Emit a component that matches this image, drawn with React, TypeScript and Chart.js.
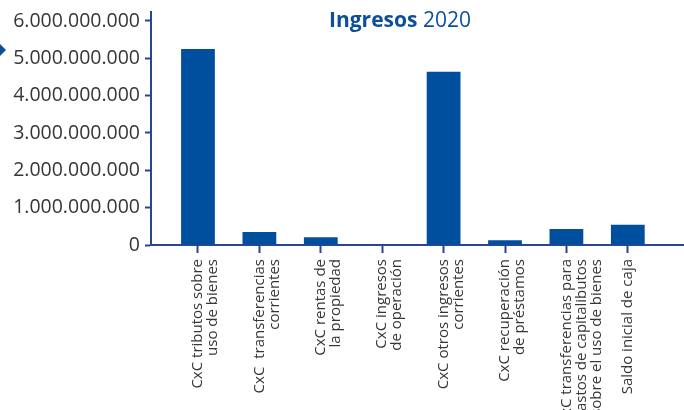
import React, { useEffect, useRef } from "react";
import { Chart, registerables } from "chart.js";

Chart.register(...registerables);

const categories: string[][] = [
  ["CxC tributos sobre", "uso de bienes"],
  ["CxC  transferencias", "corrientes"],
  ["CxC rentas de", "la propiedad"],
  ["CxC ingresos", "de operación"],
  ["CxC otros ingresos", "corrientes"],
  ["CxC recuperación", "de préstamos"],
  ["CxC transferencias para", "gastos de capitalibutos", "sobre el uso de bienes"],
  ["Saldo inicial de caja"],
];

const values: number[] = [5.25e9, 0.35e9, 0.21e9, 0, 4.64e9, 0.13e9, 0.43e9, 0.54e9];

const yTicks: number[] = [0, 1e9, 2e9, 3e9, 4e9, 5e9, 6e9];

const titleBold = "Ingresos";
const titleRegular = " 2020";

const AXIS = "#2b4595";
const BAR = "#004f9f";
const TEXT = "#363636";
const FONT = "'Open Sans', 'DejaVu Sans', sans-serif";

function fmt(v: number): string {
  return String(Math.round(v)).replace(/\B(?=(\d{3})+(?!\d))/g, ".");
}

const decorPlugin = {
  id: "decor",
  afterDraw(chart: any) {
    const ctx = chart.ctx;
    ctx.save();
    ctx.textBaseline = "middle";
    ctx.fillStyle = "#0b4f9c";
    ctx.font = `700 21px ${FONT}`;
    const x0 = 329;
    const y0 = 21;
    ctx.textAlign = "left";
    ctx.fillText(titleBold, x0, y0);
    const w = ctx.measureText(titleBold).width;
    ctx.font = `400 21px ${FONT}`;
    ctx.fillText(titleRegular, x0 + w, y0);
    ctx.fillStyle = "#0b4f9c";
    ctx.beginPath();
    ctx.moveTo(0, 44);
    ctx.lineTo(6, 50);
    ctx.lineTo(0, 56);
    ctx.closePath();
    ctx.fill();
    ctx.restore();
  },
};

export default function App() {
  const ref = useRef<HTMLCanvasElement | null>(null);
  useEffect(() => {
    if (!ref.current) return;
    const chart = new Chart(ref.current, {
      type: "bar",
      data: {
        datasets: [
          {
            data: values.map((v, i) => ({ x: i, y: v })),
            backgroundColor: BAR,
            borderWidth: 0,
            barPercentage: 0.55,
            categoryPercentage: 1,
          },
        ],
      },
      options: {
        animation: false,
        responsive: true,
        maintainAspectRatio: false,
        layout: { padding: { top: 12, left: 0, right: 0, bottom: 0 } },
        plugins: {
          legend: { display: false },
          title: { display: false },
          tooltip: { enabled: false },
        },
        scales: {
          x: {
            type: "linear",
            offset: false,
            min: -0.765,
            max: 7.915,
            afterBuildTicks: (scale: any) => {
              scale.ticks = categories.map((_, i) => ({ value: i }));
            },
            afterFit: (scale: any) => {
              scale.height = 165;
              scale.paddingLeft = 0;
              scale.paddingRight = 0;
            },
            grid: {
              offset: false,
              drawOnChartArea: false,
              drawTicks: true,
              tickLength: 8,
              tickWidth: 2,
              tickColor: AXIS,
            },
            border: { display: true, color: AXIS, width: 2 },
            ticks: {
              autoSkip: false,
              minRotation: 90,
              maxRotation: 90,
              padding: 6,
              color: TEXT,
              font: { family: FONT, size: 15, lineHeight: 1.0 },
              callback: (_v: any, i: number) => categories[i],
            },
          },
          y: {
            min: 0,
            max: 6.24e9,
            afterBuildTicks: (scale: any) => {
              scale.ticks = yTicks.map((v) => ({ value: v }));
            },
            afterFit: (scale: any) => {
              scale.width = 151;
              scale.paddingTop = 0;
              scale.paddingBottom = 0;
            },
            grid: {
              drawOnChartArea: false,
              drawTicks: true,
              tickLength: 6,
              tickWidth: 2,
              tickColor: AXIS,
            },
            border: { display: true, color: AXIS, width: 2 },
            ticks: {
              padding: 5,
              color: TEXT,
              font: { family: FONT, size: 19.5 },
              callback: (v: any) => fmt(Number(v)),
            },
          },
        },
      },
      plugins: [decorPlugin],
    } as any);
    return () => chart.destroy();
  }, []);
  return (
    <div style={{ position: "absolute", left: 0, top: 0, width: 684, height: 410, background: "#fff" }}>
      <canvas ref={ref} />
    </div>
  );
}
